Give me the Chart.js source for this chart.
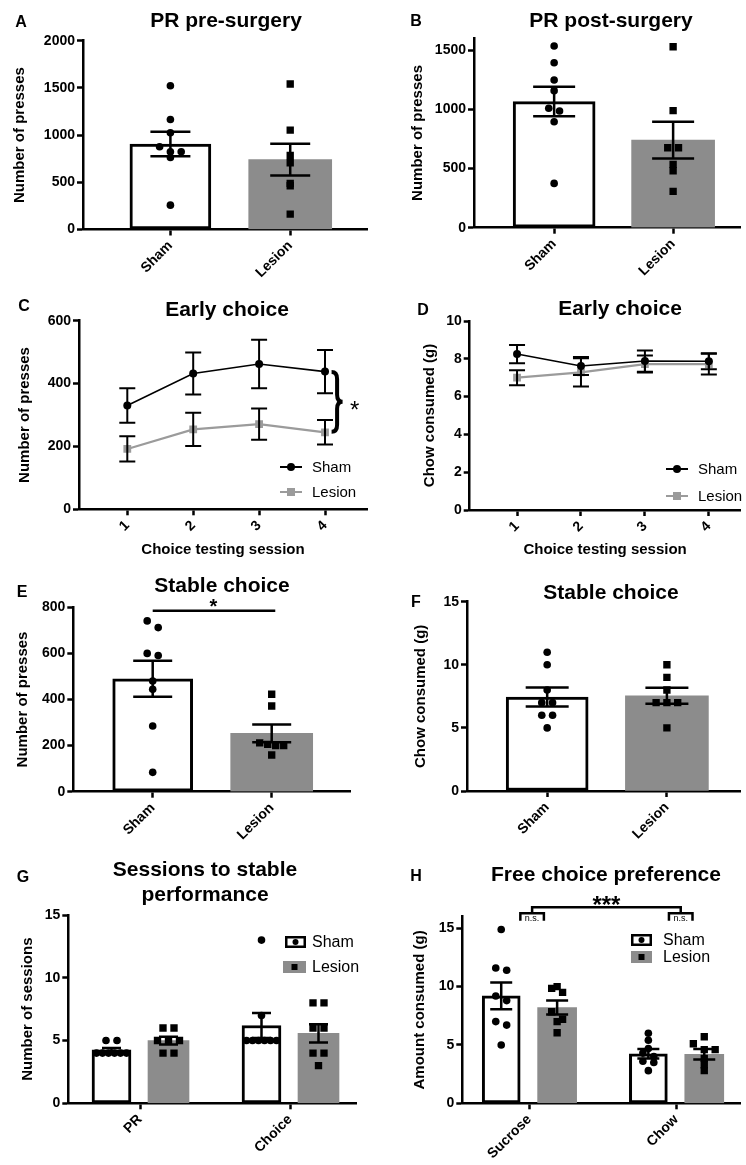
<!DOCTYPE html>
<html>
<head>
<meta charset="utf-8">
<script src="https://cdn.jsdelivr.net/npm/chart.js@4.4.1/dist/chart.umd.min.js"></script>
<style>
  body { margin: 0; background: #fff; }
  #fig { position: relative; width: 746px; height: 1165px; }
  #fig canvas { position: absolute; }
</style>
</head>
<body>
<div id="fig"></div>
<script>
const FONT = "'Liberation Sans', Arial, Helvetica, sans-serif";
const GREY = '#8c8c8c';
const LINE_GREY = '#9b9b9b';

// ---- data ----
const groupLabels = ['Sham', 'Lesion'];
const sessionLabels = ['1', '2', '3', '4'];
const stageLabels = ['PR', 'Choice'];
const foodLabels = ['Sucrose', 'Chow'];

// A - PR pre-surgery
const preShamPoints = [1523, 1166, 1025, 876, 823, 823, 763, 258];
const preLesionPoints = [1541, 1053, 784, 707, 488, 463, 163];
const preMeans = [905, 740];
const preSems = [130, 168];
const preTicks = [0, 500, 1000, 1500, 2000];

// B - PR post-surgery
const postShamPoints = [1534, 1393, 1247, 1157, 1008, 985, 895, 374];
const postLesionPoints = [1528, 988, 675, 675, 535, 481, 307];
const postMeans = [1065, 740];
const postSems = [125, 155];
const postTicks = [0, 500, 1000, 1500];

// C - early choice, presses
const earlyPressSham = [330, 432, 462, 438];
const earlyPressShamSem = [55, 67, 77, 69];
const earlyPressLesion = [192, 254, 271, 245];
const earlyPressLesionSem = [40, 53, 50, 39];
const earlyPressTicks = [0, 200, 400, 600];

// D - early choice, chow
const earlyChowSham = [8.25, 7.62, 7.88, 7.87];
const earlyChowShamSem = [0.48, 0.48, 0.56, 0.42];
const earlyChowLesion = [7.0, 7.28, 7.72, 7.72];
const earlyChowLesionSem = [0.4, 0.75, 0.45, 0.55];
const earlyChowTicks = [0, 2, 4, 6, 8, 10];

// E - stable choice, presses
const stablePressSham = [741, 712, 600, 591, 480, 444, 285, 84];
const stablePressLesion = [423, 372, 212, 205, 200, 200, 159];
const stablePressMeans = [490, 253];
const stablePressSems = [78, 38];
const stablePressTicks = [0, 200, 400, 600, 800];

// F - stable choice, chow
const stableChowSham = [11, 10, 8, 7, 7, 6, 6, 5];
const stableChowLesion = [10, 9, 8, 7, 7, 7, 5];
const stableChowMeans = [7.45, 7.55];
const stableChowSems = [0.75, 0.63];
const stableChowTicks = [0, 5, 10, 15];

// G - sessions to stable performance
const sessShamPR = [5, 5, 4, 4, 4, 4, 4, 4];
const sessShamChoice = [13, 7, 5, 5, 5, 5, 5, 5];
const sessLesionPR = [6, 6, 5, 5, 5, 4, 4];
const sessLesionChoice = [8, 8, 6, 6, 4, 4, 3];
const sessShamMeans = [4.25, 6.2];
const sessShamSems = [0.16, 1.0];
const sessLesionMeans = [5.0, 5.57];
const sessLesionSems = [0.31, 0.72];
const sessTicks = [0, 5, 10, 15];

// H - free choice preference
const freeShamSucrose = [14.9, 11.6, 11.4, 9.2, 8.8, 7.0, 6.7, 5.0];
const freeShamChow = [6.0, 5.4, 4.7, 4.3, 4.0, 3.6, 3.5, 2.8];
const freeLesionSucrose = [10.0, 9.85, 9.5, 7.85, 7.2, 7.0, 6.05];
const freeLesionChow = [5.7, 5.1, 4.6, 4.6, 3.85, 3.3, 2.8];
const freeShamMeans = [9.2, 4.25];
const freeShamSems = [1.15, 0.4];
const freeLesionMeans = [8.2, 4.2];
const freeLesionSems = [0.6, 0.45];
const freeTicks = [0, 5, 10, 15];

// ---- helpers ----
// spread points that share a row (GraphPad style scatter)
function swarm(values, center, geo, maxSpan) {
  const rows = new Map();
  values.forEach(v => {
    const k = Math.round(v * geo.pxY / 8);
    if (!rows.has(k)) rows.set(k, []);
    rows.get(k).push(v);
  });
  const pts = [];
  rows.forEach(row => {
    const n = row.length;
    const step = n > 1 ? Math.min(11, maxSpan / (n - 1)) : 0;
    row.forEach((v, j) => pts.push({ x: center + (j - (n - 1) / 2) * step / geo.pxX, y: v }));
  });
  return pts;
}

function dots(pts, shape) {
  return {
    type: 'scatter', data: pts, order: 0,
    pointStyle: shape, pointRadius: shape === 'circle' ? 3.8 : 5.2,
    pointBackgroundColor: '#000', pointBorderWidth: 0
  };
}

function bar(points, fill, thick, sems, cap) {
  return {
    type: 'bar', data: points, order: 2, grouped: false,
    backgroundColor: fill, borderColor: '#000',
    borderWidth: fill === '#fff' ? 3 : 0, borderSkipped: false,
    barThickness: thick,
    errorBars: { sems: sems, cap: cap, width: 2.5 }
  };
}

function trend(values, sems, color, shape) {
  return {
    type: 'line', order: 1,
    data: values.map((v, i) => ({ x: Number(sessionLabels[i]), y: v })),
    borderColor: color, borderWidth: shape === 'circle' ? 1.6 : 2.2,
    pointStyle: shape, pointRadius: shape === 'circle' ? 4 : 5.5,
    pointBackgroundColor: color, pointBorderWidth: 0, tension: 0, fill: false,
    errorBars: { sems: sems, cap: 16, width: 2 }
  };
}

function lineKey(ctx, x, y, label, color, shape) {
  ctx.strokeStyle = color; ctx.fillStyle = color; ctx.lineWidth = 2;
  ctx.beginPath(); ctx.moveTo(x, y); ctx.lineTo(x + 22, y); ctx.stroke();
  if (shape === 'circle') { ctx.beginPath(); ctx.arc(x + 11, y, 4, 0, Math.PI * 2); ctx.fill(); }
  else ctx.fillRect(x + 7, y - 4, 8, 8);
  ctx.fillStyle = '#000'; ctx.font = '15px ' + FONT;
  ctx.textAlign = 'left'; ctx.textBaseline = 'middle';
  ctx.fillText(label, x + 32, y + 1);
}

function boxKey(ctx, x, y, w, h, label, fill, shape, tx) {
  ctx.fillStyle = fill; ctx.fillRect(x, y, w, h);
  if (fill === '#fff') { ctx.strokeStyle = '#000'; ctx.lineWidth = 2.5; ctx.strokeRect(x + 1.25, y + 1.25, w - 2.5, h - 2.5); }
  ctx.fillStyle = '#000';
  if (shape === 'circle') { ctx.beginPath(); ctx.arc(x + w / 2, y + h / 2, 3, 0, Math.PI * 2); ctx.fill(); }
  else ctx.fillRect(x + w / 2 - 3, y + h / 2 - 3, 6, 6);
  ctx.font = '16px ' + FONT; ctx.textAlign = 'left'; ctx.textBaseline = 'middle';
  ctx.fillText(label, tx, y + h / 2 + 1);
}

function makeChart(p) {
  const [bx, by, bw, bh] = p.box;
  const cv = document.createElement('canvas');
  cv.width = bw; cv.height = bh;
  cv.style.left = bx + 'px'; cv.style.top = by + 'px';
  document.getElementById('fig').appendChild(cv);

  const first = p.xTicks[0], last = p.xTicks[p.xTicks.length - 1];
  const pxX = (p.xLastPx - p.xFirstPx) / (last - first);
  const pxY = (p.yZero - p.yTop) / p.yMax;
  const geo = { pxX, pxY };

  const axisFont = { family: FONT, size: 15, weight: 'bold' };
  const tickFont = { family: FONT, size: 14, weight: 'bold' };
  const axisLine = { display: true, color: '#000', width: 2.5 };
  const marks = { display: true, drawOnChartArea: false, drawTicks: true, tickLength: 6, tickColor: '#000', tickWidth: 2.5, offset: false };

  return new Chart(cv, {
    type: p.type,
    data: { datasets: p.datasets(geo) },
    options: {
      responsive: false,
      animation: false,
      layout: { padding: { left: 0, top: p.yTop - by, right: bx + bw - p.right, bottom: 0 } },
      plugins: { legend: { display: false }, tooltip: { enabled: false } },
      scales: {
        x: {
          type: 'linear', offset: false, z: 1,
          min: first - (p.xFirstPx - p.axisX) / pxX,
          max: last + (p.right - p.xLastPx) / pxX,
          border: axisLine, grid: marks,
          afterBuildTicks: s => { s.ticks = p.xTicks.map(v => ({ value: v })); },
          afterFit: s => { s.height = by + bh - p.yZero; },
          ticks: {
            autoSkip: false, minRotation: 45, maxRotation: 45, padding: 2,
            font: tickFont, color: '#000', callback: (v, i) => p.xLabels[i]
          },
          title: p.xTitle
            ? { display: true, text: p.xTitle, font: axisFont, color: '#000', padding: { top: 0, bottom: by + bh - p.xTitleY - 9 } }
            : { display: false }
        },
        y: {
          type: 'linear', min: 0, max: p.yMax, z: 1,
          border: axisLine, grid: marks,
          afterBuildTicks: s => { s.ticks = p.yTicks.map(v => ({ value: v })); },
          afterFit: s => { s.width = p.axisX - bx; },
          ticks: { padding: 2, font: tickFont, color: '#000', callback: v => String(v) },
          title: { display: true, text: p.yTitle, font: axisFont, color: '#000', padding: { top: p.yTitleX - bx - 9, bottom: 0 } }
        }
      }
    },
    plugins: [{
      id: 'panelDeco',
      afterDatasetDraw(chart, args) {
        const ds = chart.data.datasets[args.index];
        if (!ds.errorBars) return;
        const { ctx, scales: { x, y } } = chart;
        const e = ds.errorBars;
        ctx.save();
        ctx.strokeStyle = '#000'; ctx.lineWidth = e.width;
        ds.data.forEach((d, i) => {
          const cx = x.getPixelForValue(d.x);
          const hi = y.getPixelForValue(d.y + e.sems[i]);
          const lo = y.getPixelForValue(d.y - e.sems[i]);
          ctx.beginPath();
          ctx.moveTo(cx, hi); ctx.lineTo(cx, lo);
          ctx.moveTo(cx - e.cap / 2, hi); ctx.lineTo(cx + e.cap / 2, hi);
          ctx.moveTo(cx - e.cap / 2, lo); ctx.lineTo(cx + e.cap / 2, lo);
          ctx.stroke();
        });
        ctx.restore();
      },
      afterDraw(chart) {
        const ctx = chart.ctx;
        ctx.save();
        ctx.translate(-bx, -by); // page coordinates for the fixed text
        ctx.fillStyle = '#000';
        ctx.textAlign = 'center'; ctx.textBaseline = 'middle';
        ctx.font = 'bold 16px ' + FONT;
        ctx.fillText(p.letter, p.letterPos[0], p.letterPos[1]);
        ctx.font = 'bold 21px ' + FONT;
        p.title.forEach((t, i) => ctx.fillText(t, p.titlePos[0], p.titlePos[1] + i * 25));
        if (p.keys) p.keys(ctx);
        ctx.restore();
        if (p.draw) {
          ctx.save();
          ctx.strokeStyle = '#000'; ctx.fillStyle = '#000';
          p.draw(ctx, v => chart.scales.x.getPixelForValue(v), v => chart.scales.y.getPixelForValue(v));
          ctx.restore();
        }
      }
    }]
  });
}

// ---- A ----
makeChart({
  box: [0, 0, 373, 290], type: 'bar',
  axisX: 83, yTop: 40.7, yZero: 229.5, right: 373, yMax: 2000, yTicks: preTicks,
  xTicks: [1, 2], xFirstPx: 172, xLastPx: 294, xLabels: groupLabels,
  yTitle: 'Number of presses', yTitleX: 20,
  letter: 'A', letterPos: [21, 23], title: ['PR pre-surgery'], titlePos: [226, 21],
  datasets: g => [
    dots(swarm(preShamPoints, 1, g, 24), 'circle'),
    dots(swarm(preLesionPoints, 2, g, 24), 'rect'),
    bar([{ x: 1, y: preMeans[0] }], '#fff', 81, [preSems[0]], 40),
    bar([{ x: 2, y: preMeans[1] }], GREY, 83, [preSems[1]], 40)
  ]
});

// ---- B ----
makeChart({
  box: [373, 0, 373, 290], type: 'bar',
  axisX: 474, yTop: 38.2, yZero: 227.7, right: 746, yMax: 1600, yTicks: postTicks,
  xTicks: [1, 2], xFirstPx: 555.7, xLastPx: 677, xLabels: groupLabels,
  yTitle: 'Number of presses', yTitleX: 418,
  letter: 'B', letterPos: [416, 22], title: ['PR post-surgery'], titlePos: [611, 21],
  datasets: g => [
    dots(swarm(postShamPoints, 1, g, 24), 'circle'),
    dots(swarm(postLesionPoints, 2, g, 24), 'rect'),
    bar([{ x: 1, y: postMeans[0] }], '#fff', 82, [postSems[0]], 42),
    bar([{ x: 2, y: postMeans[1] }], GREY, 83, [postSems[1]], 42)
  ]
});

// ---- C ----
makeChart({
  box: [0, 290, 373, 272], type: 'line',
  axisX: 79, yTop: 320.7, yZero: 509.3, right: 367, yMax: 600, yTicks: earlyPressTicks,
  xTicks: [1, 2, 3, 4], xFirstPx: 127.3, xLastPx: 325, xLabels: sessionLabels,
  yTitle: 'Number of presses', yTitleX: 25,
  xTitle: 'Choice testing session', xTitleY: 550,
  letter: 'C', letterPos: [24, 307], title: ['Early choice'], titlePos: [227, 310],
  datasets: () => [
    trend(earlyPressSham, earlyPressShamSem, '#000', 'circle'),
    trend(earlyPressLesion, earlyPressLesionSem, LINE_GREY, 'rect')
  ],
  keys: ctx => {
    lineKey(ctx, 280, 467, 'Sham', '#000', 'circle');
    lineKey(ctx, 280, 492, 'Lesion', LINE_GREY, 'rect');
  },
  draw: (ctx, X, Y) => {
    const x0 = X(4.1), w = 11, top = Y(437), bot = Y(247), mid = (top + bot) / 2, r = 7;
    ctx.lineWidth = 4;
    ctx.beginPath();
    ctx.moveTo(x0, top);
    ctx.quadraticCurveTo(x0 + w / 2, top, x0 + w / 2, top + r);
    ctx.lineTo(x0 + w / 2, mid - r);
    ctx.quadraticCurveTo(x0 + w / 2, mid, x0 + w, mid);
    ctx.quadraticCurveTo(x0 + w / 2, mid, x0 + w / 2, mid + r);
    ctx.lineTo(x0 + w / 2, bot - r);
    ctx.quadraticCurveTo(x0 + w / 2, bot, x0, bot);
    ctx.stroke();
    ctx.font = '24px ' + FONT; ctx.textAlign = 'center'; ctx.textBaseline = 'alphabetic';
    ctx.fillText('*', x0 + w + 12, mid + 16);
  }
});

// ---- D ----
makeChart({
  box: [373, 290, 373, 272], type: 'line',
  axisX: 469.7, yTop: 321, yZero: 510, right: 746, yMax: 10, yTicks: earlyChowTicks,
  xTicks: [1, 2, 3, 4], xFirstPx: 518, xLastPx: 713.7, xLabels: sessionLabels,
  yTitle: 'Chow consumed (g)', yTitleX: 430,
  xTitle: 'Choice testing session', xTitleY: 550,
  letter: 'D', letterPos: [423, 311], title: ['Early choice'], titlePos: [620, 309],
  datasets: () => [
    trend(earlyChowSham, earlyChowShamSem, '#000', 'circle'),
    trend(earlyChowLesion, earlyChowLesionSem, LINE_GREY, 'rect')
  ],
  keys: ctx => {
    lineKey(ctx, 666, 469, 'Sham', '#000', 'circle');
    lineKey(ctx, 666, 496, 'Lesion', LINE_GREY, 'rect');
  }
});

// ---- E ----
makeChart({
  box: [0, 550, 373, 300], type: 'bar',
  axisX: 73.3, yTop: 607.3, yZero: 791.7, right: 350, yMax: 800, yTicks: stablePressTicks,
  xTicks: [1, 2], xFirstPx: 152.7, xLastPx: 271.7, xLabels: groupLabels,
  yTitle: 'Number of presses', yTitleX: 23,
  letter: 'E', letterPos: [22, 593], title: ['Stable choice'], titlePos: [222, 586],
  datasets: g => [
    dots(swarm(stablePressSham, 1, g, 24), 'circle'),
    dots(swarm(stablePressLesion, 2, g, 24), 'rect'),
    bar([{ x: 1, y: stablePressMeans[0] }], '#fff', 80, [stablePressSems[0]], 39),
    bar([{ x: 2, y: stablePressMeans[1] }], GREY, 82, [stablePressSems[1]], 39)
  ],
  draw: (ctx, X, Y) => {
    const yl = Y(785);
    ctx.lineWidth = 2.5;
    ctx.beginPath(); ctx.moveTo(X(1), yl); ctx.lineTo(X(2.03), yl); ctx.stroke();
    ctx.font = 'bold 20px ' + FONT; ctx.textAlign = 'center'; ctx.textBaseline = 'alphabetic';
    ctx.fillText('*', X(1.51), yl + 2);
  }
});

// ---- F ----
makeChart({
  box: [373, 550, 373, 300], type: 'bar',
  axisX: 467, yTop: 601.7, yZero: 791, right: 746, yMax: 15, yTicks: stableChowTicks,
  xTicks: [1, 2], xFirstPx: 548.7, xLastPx: 670.7, xLabels: groupLabels,
  yTitle: 'Chow consumed (g)', yTitleX: 421,
  letter: 'F', letterPos: [416, 603], title: ['Stable choice'], titlePos: [611, 593],
  datasets: g => [
    dots(swarm(stableChowSham, 1, g, 24), 'circle'),
    dots(swarm(stableChowLesion, 2, g, 24), 'rect'),
    bar([{ x: 1, y: stableChowMeans[0] }], '#fff', 82, [stableChowSems[0]], 43),
    bar([{ x: 2, y: stableChowMeans[1] }], GREY, 83, [stableChowSems[1]], 43)
  ]
});

// ---- G ----
const SHIFT = 0.19; // half distance between the two bars of a group
makeChart({
  box: [0, 850, 373, 315], type: 'bar',
  axisX: 68.3, yTop: 915, yZero: 1103.3, right: 356.7, yMax: 15, yTicks: sessTicks,
  xTicks: [1, 2], xFirstPx: 140, xLastPx: 290, xLabels: stageLabels,
  yTitle: 'Number of sessions', yTitleX: 28,
  letter: 'G', letterPos: [23, 878], title: ['Sessions to stable', 'performance'], titlePos: [205, 870],
  datasets: g => [
    dots(swarm(sessShamPR, 1 - SHIFT, g, 30).concat(swarm(sessShamChoice, 2 - SHIFT, g, 30)), 'circle'),
    dots(swarm(sessLesionPR, 1 + SHIFT, g, 30).concat(swarm(sessLesionChoice, 2 + SHIFT, g, 30)), 'rect'),
    bar(sessShamMeans.map((m, i) => ({ x: i + 1 - SHIFT, y: m })), '#fff', 39, sessShamSems, 19),
    bar(sessLesionMeans.map((m, i) => ({ x: i + 1 + SHIFT, y: m })), GREY, 41, sessLesionSems, 19)
  ],
  keys: ctx => {
    boxKey(ctx, 285, 936, 21, 12, 'Sham', '#fff', 'circle', 312);
    boxKey(ctx, 283, 961, 23, 12, 'Lesion', GREY, 'rect', 312);
  }
});

// ---- H ----
makeChart({
  box: [373, 850, 373, 315], type: 'bar',
  axisX: 462.3, yTop: 916.6, yZero: 1103.3, right: 743, yMax: 16, yTicks: freeTicks,
  xTicks: [1, 2], xFirstPx: 529.7, xLastPx: 678, xLabels: foodLabels,
  yTitle: 'Amount consumed (g)', yTitleX: 420,
  letter: 'H', letterPos: [416, 877], title: ['Free choice preference'], titlePos: [606, 875],
  datasets: g => [
    dots(swarm(freeShamSucrose, 1 - SHIFT, g, 30).concat(swarm(freeShamChow, 2 - SHIFT, g, 30)), 'circle'),
    dots(swarm(freeLesionSucrose, 1 + SHIFT, g, 30).concat(swarm(freeLesionChow, 2 + SHIFT, g, 30)), 'rect'),
    bar(freeShamMeans.map((m, i) => ({ x: i + 1 - SHIFT, y: m })), '#fff', 38, freeShamSems, 22),
    bar(freeLesionMeans.map((m, i) => ({ x: i + 1 + SHIFT, y: m })), GREY, 39, freeLesionSems, 22)
  ],
  keys: ctx => {
    boxKey(ctx, 631, 934, 21, 12, 'Sham', '#fff', 'circle', 663);
    boxKey(ctx, 631, 951, 21, 12, 'Lesion', GREY, 'rect', 663);
  },
  draw: (ctx, X, Y) => {
    ctx.lineWidth = 2.5;
    const pairs = [[0.94, 1.10], [1.95, 2.11]];
    const topY = Y(16.8), midY = Y(16.28), lowY = Y(15.65);
    pairs.forEach(([a, b]) => {
      ctx.beginPath();
      ctx.moveTo(X(a), lowY); ctx.lineTo(X(a), midY); ctx.lineTo(X(b), midY); ctx.lineTo(X(b), lowY);
      ctx.stroke();
      ctx.font = '9px ' + FONT; ctx.textAlign = 'center'; ctx.textBaseline = 'alphabetic';
      ctx.fillText('n.s.', X((a + b) / 2), lowY);
    });
    const l = (pairs[0][0] + pairs[0][1]) / 2, r = (pairs[1][0] + pairs[1][1]) / 2;
    ctx.beginPath();
    ctx.moveTo(X(l), midY); ctx.lineTo(X(l), topY); ctx.lineTo(X(r), topY); ctx.lineTo(X(r), midY);
    ctx.stroke();
    ctx.font = 'bold 24px ' + FONT;
    ctx.fillText('***', X((l + r) / 2), topY + 6);
  }
});
</script>
</body>
</html>
